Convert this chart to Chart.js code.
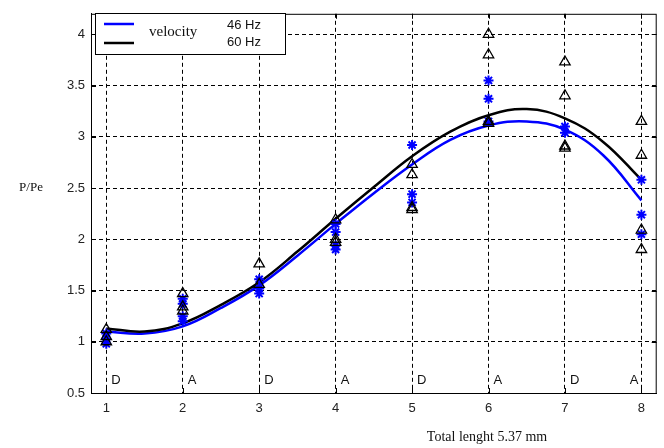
<!DOCTYPE html>
<html>
<head>
<meta charset="utf-8">
<script src="https://cdn.jsdelivr.net/npm/chart.js@4/dist/chart.umd.min.js"></script>
<style>
  html, body { margin: 0; background: #fff; }
  #wrap { width: 664px; height: 448px; position: relative; }
</style>
</head>
<body>
<div id="wrap"><canvas id="c"></canvas></div>
<script>
const positions = [1, 2, 3, 4, 5, 6, 7, 8];
const positionMarks = ["D", "A", "D", "A", "D", "A", "D", "A"];
const yTicks = [0.5, 1, 1.5, 2, 2.5, 3, 3.5, 4];

// fitted curves
const curveX = [1, 1.5, 2, 2.5, 3, 3.5, 4, 4.5, 5, 5.5, 6, 6.5, 7, 7.5, 8];
const curve46 = [1.10, 1.08, 1.15, 1.33, 1.55, 1.84, 2.15, 2.45, 2.73, 2.97, 3.11, 3.15, 3.07, 2.82, 2.38];
const curve60 = [1.13, 1.10, 1.18, 1.36, 1.58, 1.88, 2.20, 2.51, 2.81, 3.05, 3.21, 3.27, 3.18, 2.95, 2.58];

// measured points
const meas46X = [1, 1, 1, 2, 2, 2, 2, 3, 3, 3, 4, 4, 4, 4, 5, 5, 5, 6, 6, 6, 7, 7, 8, 8, 8];
const meas46Y = [1.08, 0.98, 1.03, 1.42, 1.37, 1.25, 1.20, 1.61, 1.52, 1.47, 2.15, 2.07, 1.94, 1.90,
                 2.92, 2.44, 2.36, 3.55, 3.37, 3.15, 3.10, 3.04, 2.58, 2.24, 2.05];
const meas60X = [1, 1, 1, 2, 2, 2, 3, 3, 4, 4, 4, 5, 5, 5, 5, 6, 6, 6, 6, 7, 7, 7, 7, 8, 8, 8, 8];
const meas60Y = [1.12, 1.05, 1.00, 1.47, 1.34, 1.30, 1.76, 1.56, 2.19, 2.00, 1.97, 2.73, 2.63, 2.31, 2.29,
                 4.00, 3.80, 3.15, 3.13, 3.73, 3.40, 2.91, 2.89, 3.15, 2.82, 2.09, 1.90];

const BLUE = "#0000ff";
const BLACK = "#000000";
const sans = "'Liberation Sans', Arial, sans-serif";
const serif = "'Liberation Serif', 'Times New Roman', serif";

const pts = (xs, ys) => xs.map((x, i) => ({ x, y: ys[i] }));

const decor = {
  id: "decor",
  afterDraw(chart) {
    const { ctx, chartArea: a, scales: { x, y } } = chart;
    ctx.save();
    // frame + inward ticks
    ctx.strokeStyle = BLACK;
    ctx.lineWidth = 1;
    ctx.strokeRect(a.left + 0.5, a.top + 0.5, a.right - a.left - 1, a.bottom - a.top);
    ctx.beginPath();
    positions.forEach((p) => {
      const px = Math.round(x.getPixelForValue(p)) + 0.5;
      ctx.moveTo(px, a.top); ctx.lineTo(px, a.top + 5);
      ctx.moveTo(px, a.bottom); ctx.lineTo(px, a.bottom - 5);
    });
    yTicks.forEach((v) => {
      const py = Math.round(y.getPixelForValue(v)) + 0.5;
      ctx.moveTo(a.right, py); ctx.lineTo(a.right - 5, py);
      ctx.moveTo(a.left, py); ctx.lineTo(a.left + 5, py);
    });
    ctx.stroke();

    // D / A marks
    ctx.fillStyle = "#111";
    ctx.font = `13px ${sans}`;
    ctx.textBaseline = "middle";
    positions.forEach((p, i) => {
      const px = x.getPixelForValue(p);
      if (i === positions.length - 1) {
        ctx.textAlign = "right";
        ctx.fillText(positionMarks[i], px - 3, a.bottom - 13);
      } else {
        ctx.textAlign = "left";
        ctx.fillText(positionMarks[i], px + 5, a.bottom - 13);
      }
    });

    // legend box
    const lx = 95, ly = 13, lw = 190, lh = 41;
    ctx.fillStyle = "#fff";
    ctx.fillRect(lx, ly, lw, lh);
    ctx.strokeRect(lx + 0.5, ly + 0.5, lw, lh);
    ctx.lineWidth = 2.5;
    ctx.strokeStyle = BLUE;
    ctx.beginPath(); ctx.moveTo(104, 24); ctx.lineTo(134, 24); ctx.stroke();
    ctx.strokeStyle = BLACK;
    ctx.beginPath(); ctx.moveTo(104, 43); ctx.lineTo(134, 43); ctx.stroke();
    ctx.fillStyle = "#111";
    ctx.textAlign = "left";
    ctx.font = `15px ${serif}`;
    ctx.fillText("velocity", 149, 32);
    ctx.font = `13px ${sans}`;
    ctx.fillText("46 Hz", 227, 25);
    ctx.fillText("60 Hz", 227, 42);

    // axis titles
    ctx.font = `13px ${serif}`;
    ctx.textAlign = "center";
    ctx.fillText("P/Pe", 31, y.getPixelForValue(2.5));
    ctx.font = `14px ${serif}`;
    ctx.fillText("Total lenght 5.37 mm", 487, 437);
    ctx.restore();
  },
};

new Chart(document.getElementById("c"), {
  type: "scatter",
  data: {
    datasets: [
      {
        label: "46 Hz measured",
        data: pts(meas46X, meas46Y),
        pointStyle: "star",
        pointRadius: 5,
        borderColor: BLUE,
        borderWidth: 2,
        backgroundColor: BLUE,
        order: 1,
      },
      {
        label: "60 Hz measured",
        data: pts(meas60X, meas60Y),
        pointStyle: "triangle",
        pointRadius: 6,
        borderColor: BLACK,
        borderWidth: 1.3,
        backgroundColor: "rgba(255,255,255,0)",
        order: 0,
      },
      {
        label: "velocity 46 Hz",
        data: pts(curveX, curve46),
        showLine: true,
        tension: 0.4,
        borderColor: BLUE,
        borderWidth: 2.5,
        pointRadius: 0,
        order: 3,
      },
      {
        label: "velocity 60 Hz",
        data: pts(curveX, curve60),
        showLine: true,
        tension: 0.4,
        borderColor: BLACK,
        borderWidth: 2.5,
        pointRadius: 0,
        order: 2,
      },
    ],
  },
  options: {
    responsive: true,
    maintainAspectRatio: false,
    animation: false,
    layout: { padding: { top: 9, right: 6, left: 0, bottom: 0 } },
    plugins: { legend: { display: false }, tooltip: { enabled: false } },
    scales: {
      x: {
        type: "linear",
        min: 0.8,
        max: 8.2,
        afterBuildTicks(scale) { scale.ticks = positions.map((v) => ({ value: v })); },
        afterFit(scale) { scale.height = 55; },
        grid: { color: BLACK, lineWidth: 1, drawTicks: false },
        border: { display: true, color: BLACK, dash: [4, 3] },
        ticks: { color: "#222", font: { family: sans, size: 13 }, padding: 8 },
      },
      y: {
        min: 0.5,
        max: 4.2,
        afterBuildTicks(scale) { scale.ticks = yTicks.map((v) => ({ value: v })); },
        afterFit(scale) { scale.width = 91; },
        grid: { color: BLACK, lineWidth: 1, drawTicks: false },
        border: { display: true, color: BLACK, dash: [4, 3] },
        ticks: { color: "#222", font: { family: sans, size: 13 }, padding: 6, callback: (v) => String(v) },
      },
    },
  },
  plugins: [decor],
});
</script>
</body>
</html>
